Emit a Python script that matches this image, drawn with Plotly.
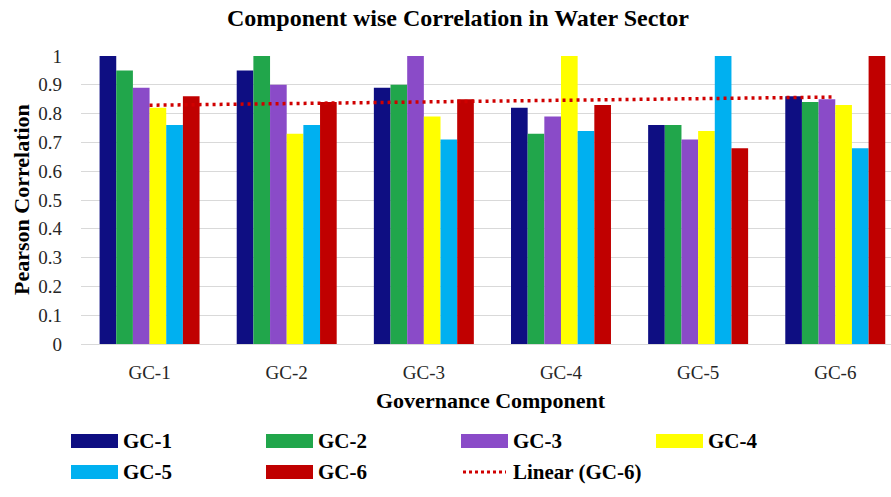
import numpy as np
import plotly.graph_objects as go

# ---------------- data ----------------
categories = ["GC-1", "GC-2", "GC-3", "GC-4", "GC-5", "GC-6"]
series_names = ["GC-1", "GC-2", "GC-3", "GC-4", "GC-5", "GC-6"]
gc1 = [1.00, 0.95, 0.89, 0.82, 0.76, 0.86]
gc2 = [0.95, 1.00, 0.90, 0.73, 0.76, 0.84]
gc3 = [0.89, 0.90, 1.00, 0.79, 0.71, 0.85]
gc4 = [0.82, 0.73, 0.79, 1.00, 0.74, 0.83]
gc5 = [0.76, 0.76, 0.71, 0.74, 1.00, 0.68]
gc6 = [0.86, 0.84, 0.85, 0.83, 0.68, 1.00]
series_values = [gc1, gc2, gc3, gc4, gc5, gc6]
y_tick_vals = [0, 0.1, 0.2, 0.3, 0.4, 0.5, 0.6, 0.7, 0.8, 0.9, 1.0]
y_tick_text = ["0", "0.1", "0.2", "0.3", "0.4", "0.5", "0.6", "0.7", "0.8", "0.9", "1"]
trend_name = "Linear (GC-6)"

# ---------------- style ----------------
colors = ["#0E0E82", "#21A64B", "#8A4BC8", "#FFFF00", "#00B0F0", "#C00000"]
trend_color = "#D00000"
FONT = "Liberation Serif, Times New Roman, serif"
W, H = 891, 497
ML, MR, MT, MB = 81, 0, 56, 153
PW = W - ML - MR
PH = H - MT - MB
PITCH = 137.14


def px_x(px):
    return (px - ML) / PW


def px_y(py):
    return (H - MB - py) / PH


fig = go.Figure()
for name, vals, col in zip(series_names, series_values, colors):
    fig.add_trace(go.Bar(x=categories, y=vals, name=name, marker_color=col,
                         marker_line_width=0, showlegend=False))

# linear trendline of GC-6 across categories
xi = np.arange(len(categories))
slope, intercept = np.polyfit(xi, np.array(gc6), 1)
trend = slope * xi + intercept
fig.add_trace(go.Scatter(x=categories, y=trend, mode="lines", name=trend_name,
                         line=dict(color=trend_color, width=3.5, dash="3px,4px"),
                         showlegend=False))

fig.update_layout(
    width=W, height=H,
    margin=dict(l=ML, r=MR, t=MT, b=MB, autoexpand=False),
    paper_bgcolor="white", plot_bgcolor="white",
    barmode="group", bargap=0.271, bargroupgap=0,
    title=dict(text="<b>Component wise Correlation in Water Sector</b>",
               font=dict(family=FONT, size=24, color="black"),
               x=458 / W, xref="container", xanchor="center",
               y=1 - 18 / H, yref="container", yanchor="middle"),
    showlegend=False,
)
fig.update_xaxes(type="category", range=[-0.5, -0.5 + PW / PITCH],
                 showgrid=False, showline=True, linecolor="#D9D9D9", linewidth=1,
                 ticks="", ticklabelstandoff=11,
                 tickfont=dict(family=FONT, size=19, color="#262626"))
fig.update_yaxes(range=[0, 1], tickvals=y_tick_vals, ticktext=y_tick_text,
                 showgrid=True, gridcolor="#D9D9D9", gridwidth=1,
                 zeroline=False, showline=False, ticks="",
                 ticklabelstandoff=18,
                 tickfont=dict(family=FONT, size=19, color="#262626"))

ann = []
ann.append(dict(text="<b>Pearson Correlation</b>", textangle=-90, xref="paper", yref="paper",
                x=px_x(21), y=px_y(200), xanchor="center", yanchor="middle",
                showarrow=False, font=dict(family=FONT, size=22, color="black")))
ann.append(dict(text="<b>Governance Component</b>", xref="paper", yref="paper",
                x=px_x(491.5), y=px_y(400), xanchor="center", yanchor="middle",
                showarrow=False, font=dict(family=FONT, size=22, color="black")))

shapes = []
legend_items = [(n, c, "bar") for n, c in zip(series_names, colors)] + [(trend_name, trend_color, "line")]
for i, (name, col, kind) in enumerate(legend_items):
    row, colidx = divmod(i, 4)
    x0 = 71 + 195 * colidx
    yc = 441 + 31 * row
    if kind == "bar":
        shapes.append(dict(type="rect", xref="paper", yref="paper",
                           x0=px_x(x0), x1=px_x(x0 + 47), y0=px_y(yc + 7), y1=px_y(yc - 7),
                           fillcolor=col, line=dict(width=0)))
    else:
        shapes.append(dict(type="line", xref="paper", yref="paper",
                           x0=px_x(x0 + 2), x1=px_x(x0 + 45), y0=px_y(yc), y1=px_y(yc),
                           line=dict(color=col, width=3, dash="3px,3px")))
    ann.append(dict(text="<b>" + name + "</b>", xref="paper", yref="paper", x=px_x(x0 + 50), y=px_y(yc),
                    xanchor="left", yanchor="middle", showarrow=False,
                    font=dict(family=FONT, size=21, color="black")))

fig.update_layout(annotations=ann, shapes=shapes)
fig.write_html("out.html", config={"displayModeBar": False},
               post_script="document.body.style.margin='0';document.body.style.padding='0';")
